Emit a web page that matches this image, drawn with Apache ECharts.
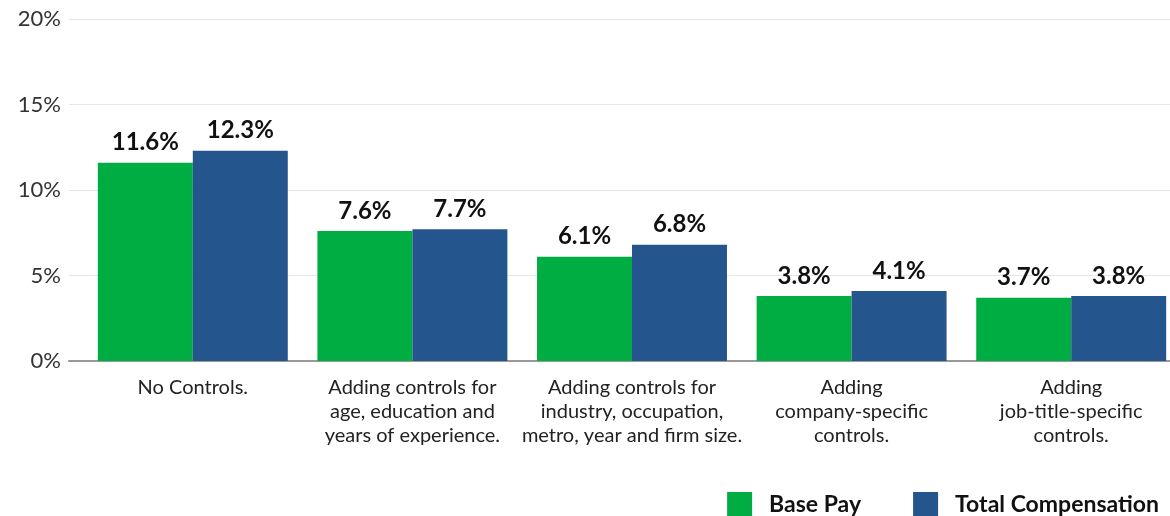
<!DOCTYPE html>
<html>
<head>
<meta charset="utf-8">
<script src="https://cdn.jsdelivr.net/npm/echarts@6/dist/echarts.min.js"></script>
<style>
  html, body { margin: 0; padding: 0; background: #fff; }
  #chart { width: 1170px; height: 516px; }
</style>
</head>
<body>
<div id="chart"></div>
<script>
// Pay gap under successive sets of controls
const categories = [
  'No Controls.',
  'Adding controls for\nage, education and\nyears of experience.',
  'Adding controls for\nindustry, occupation,\nmetro, year and firm size.',
  'Adding\ncompany-specific\ncontrols.',
  'Adding\njob-title-specific\ncontrols.'
];
const basePay = [11.6, 7.6, 6.1, 3.8, 3.7];
const totalComp = [12.3, 7.7, 6.8, 4.1, 3.8];
const yTicks = [0, 5, 10, 15, 20];

const FONT = 'Lato, "Noto Sans", sans-serif';
const GREEN = '#00AD43';
const BLUE = '#24558C';

const valueLabel = {
  show: true,
  position: 'top',
  distance: 8,
  formatter: p => p.value + '%',
  fontFamily: FONT,
  fontWeight: 'bold',
  fontSize: 24,
  color: '#111'
};

const chart = echarts.init(document.getElementById('chart'), null, { renderer: 'canvas' });
chart.setOption({
  animation: false,
  backgroundColor: '#fff',
  grid: [
    // frame: gridlines, value axis and baseline
    { left: 69, right: 0, top: 19, bottom: 155, outerBoundsMode: 'none' },
    // bars and category labels
    { left: 83, width: 1098, top: 19, bottom: 155, outerBoundsMode: 'none' }
  ],
  legend: {
    data: ['Base Pay', 'Total Compensation'],
    right: 11,
    top: 492,
    padding: 0,
    icon: 'rect',
    itemWidth: 25,
    itemHeight: 25,
    itemGap: 52,
    textStyle: {
      fontFamily: FONT,
      fontWeight: 'bold',
      fontSize: 23,
      color: '#111',
      padding: [0, 0, 0, 12]
    }
  },
  xAxis: [
    {
      type: 'category',
      gridIndex: 0,
      data: categories,
      axisLine: { show: true, lineStyle: { color: '#999', width: 2 } },
      axisTick: { show: false },
      axisLabel: { show: false },
      splitLine: { show: false }
    },
    {
      type: 'category',
      gridIndex: 1,
      data: categories,
      axisLine: { show: false },
      axisTick: { show: false },
      axisLabel: {
        show: true,
        interval: 0,
        margin: 15,
        fontFamily: FONT,
        fontSize: 20,
        lineHeight: 24,
        color: '#222',
        align: 'center'
      }
    }
  ],
  yAxis: [
    {
      type: 'value',
      gridIndex: 0,
      min: yTicks[0],
      max: yTicks[yTicks.length - 1],
      interval: yTicks[1] - yTicks[0],
      axisLine: { show: false },
      axisTick: { show: false },
      axisLabel: {
        formatter: '{value}%',
        margin: 8,
        fontFamily: FONT,
        fontSize: 22,
        color: '#333'
      },
      splitLine: { lineStyle: { color: '#e6e6e6', width: 1 } }
    },
    {
      type: 'value',
      gridIndex: 1,
      min: yTicks[0],
      max: yTicks[yTicks.length - 1],
      interval: yTicks[1] - yTicks[0],
      show: false,
      splitLine: { show: false }
    }
  ],
  series: [
    {
      name: 'Base Pay',
      type: 'bar',
      xAxisIndex: 1,
      yAxisIndex: 1,
      data: basePay,
      barGap: '0%',
      barCategoryGap: '13.5%',
      itemStyle: { color: GREEN },
      label: valueLabel
    },
    {
      name: 'Total Compensation',
      type: 'bar',
      xAxisIndex: 1,
      yAxisIndex: 1,
      data: totalComp,
      barGap: '0%',
      barCategoryGap: '13.5%',
      itemStyle: { color: BLUE },
      label: valueLabel
    }
  ]
});
</script>
</body>
</html>
